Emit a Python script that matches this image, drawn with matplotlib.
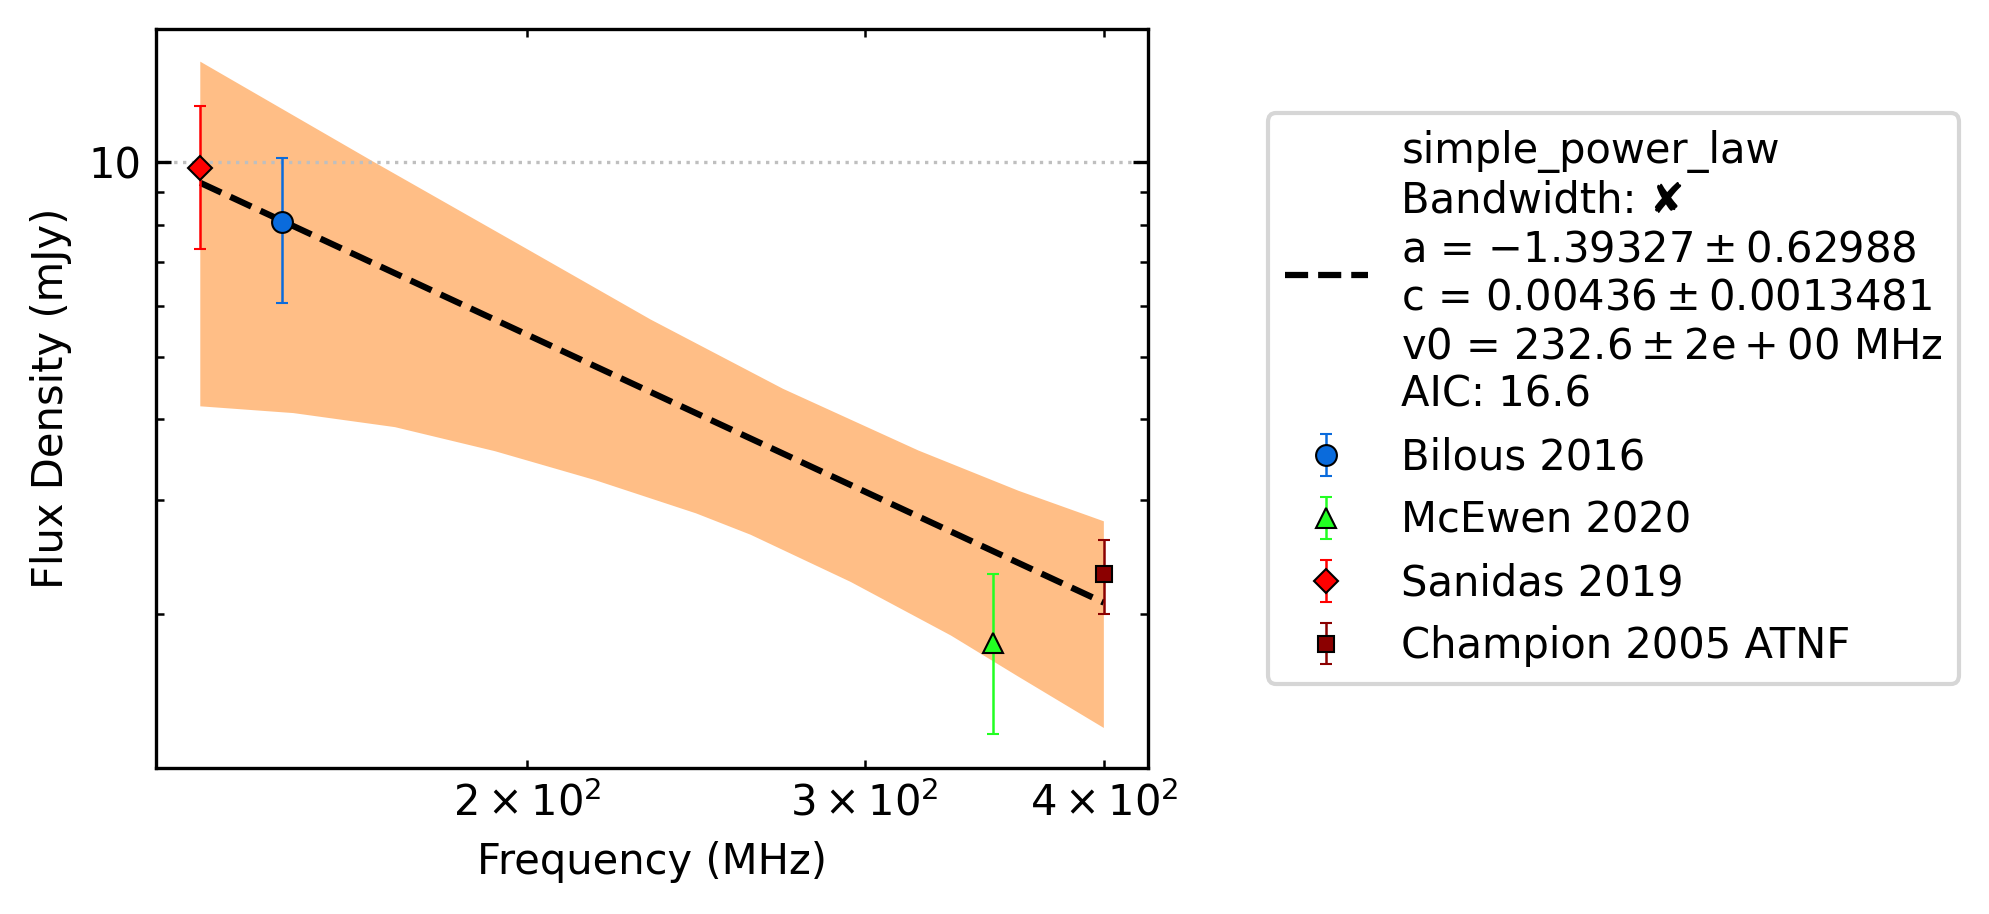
import matplotlib
matplotlib.use("Agg")
import matplotlib.pyplot as plt
from matplotlib import ticker

plt.rcParams['mathtext.default'] = 'regular'

# data points (MHz, mJy)
bilous_freq = [149]
bilous_flux = [8.1]
bilous_err = [2.05]

mcewen_freq = [350]
mcewen_flux = [1.8]
mcewen_err = [0.5]

sanidas_freq = [135]
sanidas_flux = [9.8]
sanidas_err = [2.45]

champion_freq = [400]
champion_flux = [2.3]
champion_err = [0.3]

# fitted power law (straight on log-log) and its uncertainty band
fit_freq = [135, 400]
fit_flux = [9.3, 2.08]

band_up_freq = [135, 166.5, 200, 232, 272, 320, 361, 400]
band_up_flux = [14.33, 10.0, 7.34, 5.71, 4.46, 3.58, 3.10, 2.78]
band_lo_freq = [135, 151, 170.6, 192.4, 217, 245, 261.6, 295, 332.8, 360.6, 400]
band_lo_flux = [4.19, 4.09, 3.89, 3.57, 3.22, 2.86, 2.65, 2.24, 1.85, 1.60, 1.33]

fig = plt.figure(figsize=(1989 / 300, 914 / 300), dpi=300)
ax = fig.add_axes([156 / 1989, 146 / 914, 992 / 1989, 739 / 914])

# band as one polygon: upper edge left->right, lower edge right->left
poly_x = band_up_freq + band_lo_freq[::-1]
poly_y = band_up_flux + band_lo_flux[::-1]
ax.fill(poly_x, poly_y, color='C1', alpha=0.5, lw=0)

fit_line, = ax.plot(fit_freq, fit_flux, 'k--', lw=1.5)

ekw = dict(ls='none', elinewidth=0.6, capsize=1.5, capthick=1,
           markeredgecolor='black', markeredgewidth=0.5)
h1 = ax.errorbar(bilous_freq, bilous_flux, yerr=bilous_err, marker='o', ms=5,
                 color='#0a6bdc', label='Bilous 2016', **ekw)
h2 = ax.errorbar(mcewen_freq, mcewen_flux, yerr=mcewen_err, marker='^', ms=5,
                 color='#22ff22', label='McEwen 2020', **ekw)
h3 = ax.errorbar(sanidas_freq, sanidas_flux, yerr=sanidas_err, marker='D', ms=4,
                 color='red', label='Sanidas 2019', **ekw)
h4 = ax.errorbar(champion_freq, champion_flux, yerr=champion_err, marker='s', ms=4,
                 color='darkred', label='Champion 2005 ATNF', **ekw)

ax.set_xscale('log')
ax.set_yscale('log')
ax.set_xlim(128, 421.8)
ax.set_ylim(1.153, 16.1)
ax.yaxis.set_major_formatter(ticker.FormatStrFormatter('%g'))

ax.grid(True, which='major', ls=':', color='0.75', lw=0.8)
ax.tick_params(which='both', direction='in', top=True, right=True)

ax.set_xlabel('Frequency (MHz)')
ax.set_ylabel('Flux Density (mJy)')

fit_label = ('simple_power_law\n'
             'Bandwidth: \u2718\n'
             'a = $-1.39327 \\pm 0.62988$\n'
             'c = $0.00436 \\pm 0.0013481$\n'
             'v0 = $232.6 \\pm 2e+00$ MHz\n'
             'AIC: 16.6')
ax.legend([fit_line, h1, h2, h3, h4],
          [fit_label, 'Bilous 2016', 'McEwen 2020', 'Sanidas 2019', 'Champion 2005 ATNF'],
          loc='center left', bbox_to_anchor=(1.1, 0.5))

fig.savefig('out.png', dpi=300)
